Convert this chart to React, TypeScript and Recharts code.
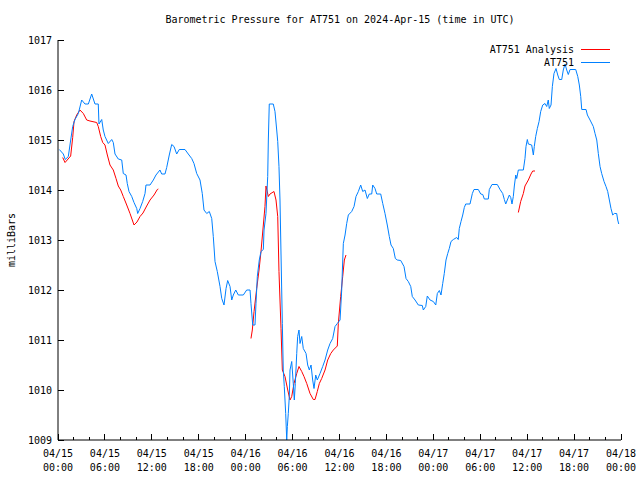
import { LineChart, Line, XAxis, YAxis } from "recharts";

// AT751 observed pressure (hours since 04/15 00:00 UTC, mbar)
const obsHours = [
  0.17, 0.68, 0.93, 1.32, 1.53, 1.88, 2.17, 2.6, 3.03, 3.45, 3.88, 4.31, 4.73, 5.15, 5.24, 5.59, 5.79, 6.01,
  6.43, 6.87, 7.07, 7.29, 7.71, 8.15, 8.35, 8.7, 8.86, 9.08, 9.43, 9.72, 10.07, 10.19, 10.49, 10.83, 11.13,
  11.25, 11.77, 12.19, 12.53, 13.04, 13.26, 13.68, 13.9, 14.23, 14.54, 14.84, 15.18, 15.51, 16.24, 16.66,
  17.1, 17.39, 17.74, 18.16, 18.45, 18.67, 19.02, 19.35, 19.66, 19.86, 20.08, 20.37, 20.72, 20.94, 21.23,
  21.49, 21.7, 22.0, 22.22, 22.42, 22.73, 23.06, 23.7, 24.13, 24.56, 24.68, 24.85, 24.9, 25.19, 25.32,
  25.49, 25.74, 25.96, 26.26, 26.35, 26.6, 26.82, 26.9, 27.02, 27.53, 27.75, 27.97, 28.1, 28.26, 28.39,
  28.56, 28.69, 28.81, 28.94, 29.12, 29.25, 29.33, 29.45, 29.58, 29.67, 29.89, 30.09, 30.22, 30.35, 30.53,
  30.65, 30.82, 30.95, 31.17, 31.37, 31.72, 31.93, 32.14, 32.36, 32.57, 32.74, 32.96, 33.16, 33.51, 33.85,
  34.15, 34.49, 34.79, 35.13, 35.43, 35.72, 36.07, 36.28, 36.49, 36.71, 36.92, 37.13, 37.56, 37.86, 38.11,
  38.41, 38.71, 38.97, 39.26, 39.56, 39.81, 40.12, 40.25, 40.54, 40.76, 41.27, 41.53, 41.82, 42.11, 42.37,
  42.59, 42.88, 43.14, 43.39, 43.83, 44.25, 44.51, 44.8, 45.11, 45.31, 45.66, 46.08, 46.59, 46.72, 47.03,
  47.23, 47.58, 48.0, 48.31, 48.51, 48.77, 48.98, 49.2, 49.4, 49.62, 49.84, 50.04, 50.26, 50.56, 50.99,
  51.19, 51.32, 51.54, 51.76, 51.96, 52.14, 52.69, 52.99, 53.2, 53.75, 54.06, 54.32, 54.52, 55.03, 55.16,
  55.5, 56.18, 56.53, 56.87, 57.08, 57.26, 57.46, 57.72, 57.9, 58.06, 58.23, 58.36, 58.54, 58.66, 58.87,
  59.51, 59.72, 59.85, 60.02, 60.15, 60.58, 60.79, 60.91, 61.09, 61.3, 61.52, 61.73, 61.99, 62.28, 62.5,
  62.7, 62.83, 63.05, 63.22, 63.43, 63.69, 63.91, 64.11, 64.42, 64.62, 64.84, 65.06, 65.26, 65.48, 66.21,
  66.47, 66.67, 66.85, 66.98, 67.53, 67.7, 68.04, 68.46, 68.68, 68.9, 69.1, 69.32, 69.53, 69.83, 70.08,
  70.3, 70.51, 70.72, 70.94, 71.15, 71.45, 71.58, 71.71,
];
const obsPressure = [
  1014.81, 1014.72, 1014.61, 1014.67, 1014.9, 1015.27, 1015.41, 1015.53, 1015.8, 1015.72, 1015.72, 1015.92,
  1015.72, 1015.72, 1015.32, 1015.41, 1015.2, 1015.07, 1014.93, 1015.01, 1014.95, 1014.72, 1014.62, 1014.6,
  1014.33, 1014.3, 1014.13, 1013.97, 1013.87, 1013.75, 1013.63, 1013.53, 1013.63, 1013.77, 1013.93, 1014.1,
  1014.1, 1014.2, 1014.3, 1014.4, 1014.32, 1014.32, 1014.45, 1014.7, 1014.91, 1014.87, 1014.72, 1014.81,
  1014.81, 1014.72, 1014.63, 1014.53, 1014.33, 1014.2, 1013.93, 1013.6, 1013.53, 1013.57, 1013.43, 1013.07,
  1012.57, 1012.37, 1012.07, 1011.83, 1011.7, 1012.03, 1012.19, 1012.07, 1011.8, 1011.9, 1012.0, 1011.9,
  1011.9, 1012.0, 1012.0, 1011.73, 1011.4, 1011.3, 1011.3, 1011.73, 1012.27, 1012.6, 1012.77, 1012.81,
  1013.2, 1013.53, 1014.27, 1015.0, 1015.72, 1015.72, 1015.57, 1015.2, 1014.97, 1014.47, 1013.8, 1012.4,
  1011.33, 1010.4, 1010.07, 1009.53, 1009.0, 1009.27, 1009.53, 1009.87, 1010.4, 1010.57, 1010.13, 1009.8,
  1010.13, 1010.73, 1011.07, 1011.2, 1010.93, 1011.07, 1010.83, 1010.73, 1010.5, 1010.4, 1010.5, 1010.2,
  1010.03, 1010.3, 1010.2, 1010.33, 1010.47, 1010.6, 1010.8, 1010.93, 1011.03, 1011.27, 1011.33, 1011.4,
  1012.0, 1012.93, 1013.1, 1013.33, 1013.5, 1013.57, 1013.67, 1013.87, 1013.97, 1014.1, 1013.97, 1014.0,
  1013.83, 1013.92, 1013.92, 1014.1, 1014.03, 1013.92, 1013.92, 1013.73, 1013.53, 1013.3, 1013.07, 1012.9,
  1012.83, 1012.63, 1012.6, 1012.59, 1012.47, 1012.23, 1012.17, 1012.07, 1011.87, 1011.8, 1011.7, 1011.69,
  1011.6, 1011.67, 1011.88, 1011.8, 1011.77, 1011.7, 1011.93, 1011.99, 1011.9, 1012.13, 1012.33, 1012.6,
  1012.73, 1012.83, 1012.97, 1013.01, 1013.05, 1013.01, 1013.23, 1013.37, 1013.5, 1013.65, 1013.72, 1013.72,
  1013.93, 1014.01, 1014.01, 1013.92, 1013.91, 1013.82, 1013.82, 1014.01, 1014.11, 1014.11, 1014.01,
  1013.93, 1013.81, 1013.72, 1013.8, 1013.9, 1013.85, 1013.72, 1013.87, 1014.08, 1014.3, 1014.23, 1014.4,
  1014.4, 1014.63, 1014.87, 1015.01, 1014.92, 1014.9, 1014.7, 1014.87, 1015.07, 1015.23, 1015.37, 1015.57,
  1015.7, 1015.73, 1015.67, 1015.8, 1015.63, 1015.7, 1016.07, 1016.33, 1016.43, 1016.3, 1016.21, 1016.21,
  1016.4, 1016.52, 1016.4, 1016.31, 1016.41, 1016.41, 1016.27, 1016.1, 1015.87, 1015.61, 1015.61, 1015.5,
  1015.4, 1015.27, 1015.13, 1015.0, 1014.73, 1014.47, 1014.33, 1014.17, 1014.07, 1013.97, 1013.8, 1013.63,
  1013.5, 1013.53, 1013.53, 1013.4, 1013.32,
];

// AT751 analysis, three runs separated by gaps (null)
const anaHours = [
  0.6, 0.9, 1.62, 1.88, 2.05, 2.39, 2.81, 3.24, 3.67, 4.09, 4.95, 5.15, 5.46, 5.72, 6.01, 6.31, 6.65, 7.07,
  7.42, 7.71, 8.02, 8.35, 8.79, 9.21, 9.5, 9.72, 10.1, 10.49, 10.87, 11.34, 11.77, 12.28, 12.7, 12.83,
  18.0,
  24.68, 24.85, 25.07, 25.41, 25.71, 25.96, 26.26, 26.47, 26.6, 26.9, 27.11, 27.62, 27.88, 28.1, 28.26,
  28.39, 28.52, 28.69, 29.03, 29.38, 29.67, 29.89, 30.18, 30.53, 30.82, 31.17, 31.46, 31.81, 32.23, 32.65,
  32.87, 33.16, 33.42, 33.72, 34.15, 34.49, 34.88, 35.21, 35.72, 35.85, 36.15, 36.41, 36.62, 36.83,
  48.0,
  58.87, 59.17, 59.51, 59.72, 60.15, 60.49, 60.71, 61.0,
];
const anaPressure = [
  1014.65, 1014.55, 1014.68, 1015.05, 1015.37, 1015.5, 1015.6, 1015.53, 1015.4, 1015.38, 1015.35, 1015.27,
  1015.07, 1014.95, 1014.9, 1014.7, 1014.5, 1014.4, 1014.23, 1014.08, 1014.0, 1013.87, 1013.7, 1013.53,
  1013.4, 1013.3, 1013.36, 1013.47, 1013.54, 1013.68, 1013.8, 1013.9, 1014.01, 1014.02,
  null,
  1011.03, 1011.2, 1011.57, 1012.03, 1012.4, 1012.77, 1013.3, 1013.67, 1014.08, 1013.87, 1013.92, 1013.97,
  1013.8, 1013.47, 1012.37, 1011.8, 1011.23, 1010.4, 1010.27, 1010.0, 1009.8, 1009.87, 1010.13, 1010.33,
  1010.47, 1010.37, 1010.27, 1010.13, 1009.93, 1009.81, 1009.81, 1009.97, 1010.13, 1010.23, 1010.4, 1010.6,
  1010.73, 1010.8, 1010.88, 1011.33, 1011.87, 1012.27, 1012.6, 1012.7,
  null,
  1013.55, 1013.77, 1013.93, 1014.08, 1014.2, 1014.32, 1014.38, 1014.38,
];

const xTicks = [
  0, 2, 4, 6, 8, 10, 12, 14, 16, 18, 20, 22, 24, 26, 28, 30, 32, 34, 36, 38, 40, 42, 44, 46, 48, 50, 52, 54,
  56, 58, 60, 62, 64, 66, 68, 70, 72,
];
const majorTicks = [0, 6, 12, 18, 24, 30, 36, 42, 48, 54, 60, 66, 72];
const dayLabels = ["04/15", "04/15", "04/15", "04/15", "04/16", "04/16", "04/16", "04/16", "04/17", "04/17", "04/17", "04/17", "04/18"];
const timeLabels = ["00:00", "06:00", "12:00", "18:00", "00:00", "06:00", "12:00", "18:00", "00:00", "06:00", "12:00", "18:00", "00:00"];
const yTicks = [1009, 1010, 1011, 1012, 1013, 1014, 1015, 1016, 1017];

const obsData = obsHours.map((h, i) => ({ h, p: obsPressure[i] }));
const anaData = anaHours.map((h, i) => ({ h, p: anaPressure[i] }));

const FONT = "'DejaVu Sans Mono', monospace";
const BLUE = "#0080ff";
const RED = "#ff0000";

const BottomTick = ({ x, y, payload }: any) => {
  const i = majorTicks.indexOf(payload.value);
  const major = i >= 0;
  return (
    <g>
      <line x1={x} x2={x} y1={y} y2={y - (major ? 6 : 3)} stroke="#000" shapeRendering="crispEdges" />
      {major && (
        <text x={x} y={y} textAnchor="middle" fontFamily={FONT} fontSize={10} fill="#000">
          <tspan x={x} dy={17}>{dayLabels[i]}</tspan>
          <tspan x={x} dy={14}>{timeLabels[i]}</tspan>
        </text>
      )}
    </g>
  );
};

const TopTick = ({ x, y, payload }: any) => {
  const major = majorTicks.includes(payload.value);
  return <line x1={x} x2={x} y1={y} y2={y + (major ? 6 : 3)} stroke="#000" shapeRendering="crispEdges" />;
};

const LeftTick = ({ x, y, payload }: any) => (
  <g>
    <line x1={x} x2={x + 6} y1={y} y2={y} stroke="#000" shapeRendering="crispEdges" />
    <text x={x - 6} y={y + 4} textAnchor="end" fontFamily={FONT} fontSize={10} fill="#000">
      {payload.value}
    </text>
  </g>
);

const RightTick = ({ x, y }: any) => (
  <line x1={x} x2={x - 6} y1={y} y2={y} stroke="#000" shapeRendering="crispEdges" />
);

const App = () => {
  return (
    <div style={{ position: "absolute", left: 0, top: 0, width: 640, height: 480, background: "#fff" }}>
      <LineChart width={640} height={480} margin={{ top: 40, right: 19, bottom: 0, left: 0 }}>
        <XAxis
          dataKey="h"
          type="number"
          domain={[0, 72]}
          ticks={xTicks}
          interval={0}
          allowDataOverflow
          height={40}
          tickSize={0}
          tickMargin={0}
          tickLine={false}
          axisLine={{ stroke: "#000" }}
          tick={<BottomTick />}
        />
        <XAxis
          xAxisId="top"
          orientation="top"
          dataKey="h"
          type="number"
          domain={[0, 72]}
          ticks={xTicks}
          interval={0}
          height={0}
          tickSize={0}
          tickMargin={0}
          tickLine={false}
          axisLine={{ stroke: "#000" }}
          tick={<TopTick />}
        />
        <YAxis
          type="number"
          domain={[1009, 1017]}
          ticks={yTicks}
          interval={0}
          allowDataOverflow
          width={58}
          tickSize={0}
          tickMargin={0}
          tickLine={false}
          axisLine={{ stroke: "#000" }}
          tick={<LeftTick />}
        />
        <YAxis
          yAxisId="right"
          orientation="right"
          type="number"
          domain={[1009, 1017]}
          ticks={yTicks}
          interval={0}
          width={0}
          tickSize={0}
          tickMargin={0}
          tickLine={false}
          axisLine={{ stroke: "#000" }}
          tick={<RightTick />}
        />
        <Line
          data={anaData}
          dataKey="p"
          stroke={RED}
          strokeWidth={1}
          dot={false}
          type="linear"
          isAnimationActive={false}
        />
        <Line
          data={obsData}
          dataKey="p"
          stroke={BLUE}
          strokeWidth={1}
          dot={false}
          type="linear"
          isAnimationActive={false}
        />
      </LineChart>
      <svg width={640} height={480} style={{ position: "absolute", left: 0, top: 0, pointerEvents: "none" }}>
        <text x={340} y={23} textAnchor="middle" fontFamily={FONT} fontSize={10} fill="#000">
          Barometric Pressure for AT751 on 2024-Apr-15 (time in UTC)
        </text>
        <text transform="translate(15,240) rotate(-90)" textAnchor="middle" fontFamily={FONT} fontSize={10} fill="#000">
          milliBars
        </text>
        <text x={574} y={53} textAnchor="end" fontFamily={FONT} fontSize={10} fill="#000">
          AT751 Analysis
        </text>
        <line x1={581} x2={610} y1={49.5} y2={49.5} stroke={RED} />
        <text x={574} y={66} textAnchor="end" fontFamily={FONT} fontSize={10} fill="#000">
          AT751
        </text>
        <line x1={581} x2={610} y1={62.5} y2={62.5} stroke={BLUE} />
      </svg>
    </div>
  );
};

export default App;
